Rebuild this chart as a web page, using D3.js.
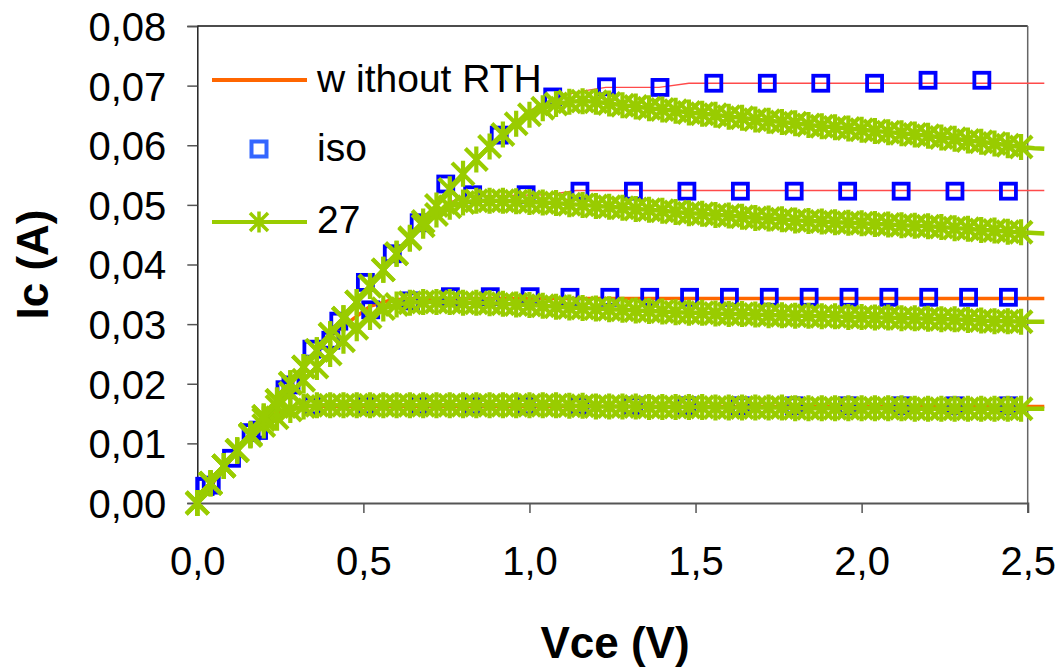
<!DOCTYPE html>
<html>
<head>
<meta charset="utf-8">
<script src="https://cdn.jsdelivr.net/npm/d3@7"></script>
<style>
  html, body { margin: 0; padding: 0; background: #fff; }
  svg { display: block; font-family: "Liberation Sans", Arial, sans-serif; }
</style>
</head>
<body>
<svg id="chart" width="1062" height="669"></svg>
<script>
// ---- axis ticks ----
const xTicks = [0, 0.5, 1.0, 1.5, 2.0, 2.5];
const yTicks = [0, 0.01, 0.02, 0.03, 0.04, 0.05, 0.06, 0.07, 0.08];

// ---- legend labels ----
const seriesNames = ["w ithout RTH", "iso", "27"];

// ---- "without RTH": one polyline per base current (Vce in V, Ic in A) ----
const noRthV1 = [0, 0.16, 0.24, 0.30, 0.34, 2.55];
const noRthI1 = [0, 0.0115, 0.0152, 0.0160, 0.0162, 0.0162];
const noRthV2 = [0, 0.20, 0.40, 0.52, 0.58, 0.64, 2.55];
const noRthI2 = [0, 0.0145, 0.0280, 0.0330, 0.0340, 0.0343, 0.0343];
const noRthV3 = [0, 0.28, 0.52, 0.68, 0.76, 0.82, 1.06, 1.14, 2.55];
const noRthI3 = [0, 0.0201, 0.0364, 0.0470, 0.0505, 0.0515, 0.0517, 0.0524, 0.0524];
const noRthV4 = [0, 0.28, 0.52, 0.76, 0.92, 1.00, 1.08, 1.15, 1.23, 1.39, 1.48, 2.55];
const noRthI4 = [0, 0.0201, 0.0364, 0.0528, 0.0622, 0.0658, 0.0680, 0.0690, 0.0697, 0.0697, 0.0704, 0.0704];

// ---- "iso": square markers ----
const isoVa = [0.023, 0.184, 0.345, 0.506, 0.668, 0.829, 0.990, 1.152, 1.313, 1.474, 1.635, 1.797, 1.958, 2.119, 2.281, 2.442];
const isoI1 = [0.0028, 0.0122, 0.0163, 0.0163, 0.0163, 0.0163, 0.0163, 0.0163, 0.0163, 0.0163, 0.0163, 0.0163, 0.0163, 0.0163, 0.0163, 0.0163];
const isoVb = [0.042, 0.162, 0.282, 0.402, 0.522, 0.642, 0.762, 0.882, 1.002, 1.122, 1.242, 1.362, 1.482, 1.602, 1.722, 1.842, 1.962, 2.082, 2.202, 2.322, 2.442];
const isoI2 = [0.0030, 0.0118, 0.0198, 0.0273, 0.0324, 0.0339, 0.0346, 0.0346, 0.0346, 0.0345, 0.0345, 0.0345, 0.0345, 0.0345, 0.0345, 0.0345, 0.0345, 0.0345, 0.0345, 0.0345, 0.0345];
const isoI3 = [0.0028, 0.0122, 0.0258, 0.0370, 0.0470, 0.0517, 0.0517, 0.0523, 0.0523, 0.0523, 0.0523, 0.0523, 0.0523, 0.0523, 0.0523, 0.0523];
const isoVc = [0.103, 0.264, 0.426, 0.587, 0.748, 0.909, 1.070, 1.232, 1.393, 1.555, 1.716, 1.877, 2.039, 2.200, 2.362];
const isoI4 = [0.0075, 0.0190, 0.0305, 0.0418, 0.0535, 0.0617, 0.0681, 0.0698, 0.0697, 0.0704, 0.0704, 0.0704, 0.0704, 0.0709, 0.0709];

// ---- "27": sampled Vce grid and Ic per base current ----
const vce27 = [
  0, 0.04, 0.08, 0.12, 0.16, 0.20, 0.24, 0.28, 0.32, 0.36,
  0.40, 0.44, 0.48, 0.52, 0.56, 0.60, 0.64, 0.68, 0.72, 0.76,
  0.80, 0.84, 0.88, 0.92, 0.96, 1.00, 1.04, 1.08, 1.12, 1.16,
  1.20, 1.24, 1.28, 1.32, 1.36, 1.40, 1.44, 1.48, 1.52, 1.56,
  1.60, 1.64, 1.68, 1.72, 1.76, 1.80, 1.84, 1.88, 1.92, 1.96,
  2.00, 2.04, 2.08, 2.12, 2.16, 2.20, 2.24, 2.28, 2.32, 2.36,
  2.40, 2.44, 2.48, 2.52,
  2.55
];
const ic27a = [
  0, 0.0033, 0.0062, 0.0088, 0.0113, 0.0130, 0.0143, 0.0156, 0.0162, 0.0164,
  0.0164, 0.0164, 0.0164, 0.0164, 0.0164, 0.0164, 0.0164, 0.0164, 0.0164, 0.0164,
  0.0164, 0.0164, 0.0164, 0.0164, 0.0164, 0.0164, 0.0164, 0.0164, 0.0163, 0.0163,
  0.0162, 0.0162, 0.0162, 0.0162, 0.0161, 0.0161, 0.0161, 0.0161, 0.0161, 0.0160,
  0.0160, 0.0160, 0.0160, 0.0160, 0.0160, 0.0159, 0.0159, 0.0159, 0.0159, 0.0159,
  0.0159, 0.0159, 0.0159, 0.0159, 0.0158, 0.0158, 0.0158, 0.0158, 0.0158, 0.0158,
  0.0158, 0.0158, 0.0158, 0.0158,
  0.0158
];
const ic27b = [
  0, 0.0033, 0.0062, 0.0088, 0.0115, 0.0140, 0.0162, 0.0184, 0.0206, 0.0228,
  0.0250, 0.0272, 0.0293, 0.0312, 0.0326, 0.0333, 0.0336, 0.0337, 0.0337, 0.0337,
  0.0336, 0.0336, 0.0335, 0.0334, 0.0333, 0.0332, 0.0331, 0.0329, 0.0328, 0.0327,
  0.0326, 0.0325, 0.0324, 0.0323, 0.0322, 0.0321, 0.0320, 0.0319, 0.0319, 0.0318,
  0.0317, 0.0317, 0.0316, 0.0315, 0.0315, 0.0314, 0.0314, 0.0313, 0.0313, 0.0312,
  0.0312, 0.0311, 0.0311, 0.0310, 0.0310, 0.0309, 0.0308, 0.0308, 0.0307, 0.0306,
  0.0305, 0.0305, 0.0304, 0.0304,
  0.0304
];
const ic27c = [
  0, 0.0033, 0.0062, 0.0088, 0.0115, 0.0145, 0.0172, 0.0201, 0.0228, 0.0256,
  0.0283, 0.0310, 0.0337, 0.0364, 0.0391, 0.0418, 0.0443, 0.0465, 0.0484, 0.0497,
  0.0504, 0.0507, 0.0507, 0.0507, 0.0506, 0.0505, 0.0504, 0.0503, 0.0501, 0.0500,
  0.0498, 0.0497, 0.0495, 0.0493, 0.0492, 0.0490, 0.0488, 0.0486, 0.0485, 0.0483,
  0.0482, 0.0480, 0.0478, 0.0477, 0.0476, 0.0474, 0.0473, 0.0472, 0.0471, 0.0470,
  0.0469, 0.0468, 0.0467, 0.0466, 0.0465, 0.0464, 0.0463, 0.0461, 0.0460, 0.0458,
  0.0457, 0.0455, 0.0454, 0.0453,
  0.0452
];
const ic27d = [
  0, 0.0033, 0.0062, 0.0088, 0.0115, 0.0145, 0.0172, 0.0201, 0.0228, 0.0256,
  0.0283, 0.0310, 0.0337, 0.0364, 0.0391, 0.0418, 0.0445, 0.0472, 0.0499, 0.0526,
  0.0552, 0.0576, 0.0598, 0.0618, 0.0636, 0.0651, 0.0662, 0.0669, 0.0673, 0.0674,
  0.0673, 0.0670, 0.0667, 0.0665, 0.0662, 0.0660, 0.0658, 0.0655, 0.0653, 0.0651,
  0.0648, 0.0646, 0.0643, 0.0641, 0.0639, 0.0637, 0.0634, 0.0632, 0.0630, 0.0628,
  0.0626, 0.0624, 0.0622, 0.0620, 0.0618, 0.0616, 0.0613, 0.0611, 0.0608, 0.0606,
  0.0603, 0.0600, 0.0597, 0.0595,
  0.0594
];

// ---- colours ----
const cOrange = "#ff6600";
const cRed = "#ff4a4a";
const cBlue = "#0000ff";
const cBlueLegend = "#3366ff";
const cGreen = "#99cc00";

const zip = (vs, is) => vs.map((v, k) => [v, is[k]]);

const svg = d3.select("#chart");
svg.append("rect").attr("width", 1062).attr("height", 669).attr("fill", "#fff");

const x = d3.scaleLinear().domain([0, 2.5]).range([197.3, 1027.7]);
const y = d3.scaleLinear().domain([0, 0.08]).range([503, 26]);
const line = d3.line().x(d => x(d[0])).y(d => y(d[1]));
const comma = f => d => d3.format(f)(d).replace(".", ",");

// plot frame (top and right)
svg.append("line").attr("x1", x(0)).attr("x2", x(2.5)).attr("y1", y(0.08)).attr("y2", y(0.08))
  .attr("stroke", "#111").attr("stroke-width", 1.5);
svg.append("line").attr("x1", x(2.5)).attr("x2", x(2.5)).attr("y1", y(0.08)).attr("y2", y(0))
  .attr("stroke", "#666").attr("stroke-width", 1.5);

// y axis
const gy = svg.append("g").attr("transform", `translate(${x(0)},0)`)
  .call(d3.axisLeft(y).tickValues(yTicks).tickSize(10).tickPadding(21).tickFormat(comma(".2f")));
gy.select(".domain").attr("stroke", "#222").attr("stroke-width", 1.5);
gy.selectAll(".tick line").attr("stroke", "#555").attr("stroke-width", 1.5);
gy.selectAll(".tick text").attr("font-size", 40).attr("fill", "#000")
  .attr("font-family", "'Liberation Sans', Arial, sans-serif").attr("dy", "0.36em");

// x axis
const gx = svg.append("g").attr("transform", `translate(0,${y(0)})`)
  .call(d3.axisBottom(x).tickValues(xTicks).tickSize(10).tickPadding(34).tickFormat(comma(".1f")));
gx.select(".domain").attr("stroke", "#555").attr("stroke-width", 2.2);
gx.selectAll(".tick line").attr("stroke", "#555").attr("stroke-width", 1.5);
gx.selectAll(".tick text").attr("font-size", 40).attr("fill", "#000")
  .attr("font-family", "'Liberation Sans', Arial, sans-serif");

// axis titles
svg.append("text").attr("x", 615).attr("y", 658).attr("text-anchor", "middle")
  .attr("font-size", 44).attr("font-weight", "bold").text("Vce (V)");
svg.append("text").attr("transform", "translate(48,264.5) rotate(-90)").attr("text-anchor", "middle")
  .attr("font-size", 44).attr("font-weight", "bold").text("Ic (A)");

// series 1: without RTH
const noRth = [
  { pts: zip(noRthV1, noRthI1), color: cOrange, w: 3.5 },
  { pts: zip(noRthV2, noRthI2), color: cOrange, w: 3.5 },
  { pts: zip(noRthV3, noRthI3), color: cRed, w: 1.4 },
  { pts: zip(noRthV4, noRthI4), color: cRed, w: 1.4 }
];
svg.append("g").selectAll("path").data(noRth).join("path")
  .attr("d", d => line(d.pts)).attr("fill", "none")
  .attr("stroke", d => d.color).attr("stroke-width", d => d.w);

// series 2: iso
const isoPts = [
  ...zip(isoVa, isoI1), ...zip(isoVb, isoI2), ...zip(isoVa, isoI3), ...zip(isoVc, isoI4)
];
const sq = 15;
svg.append("g").selectAll("rect").data(isoPts).join("rect")
  .attr("x", d => x(d[0]) - sq / 2).attr("y", d => y(d[1]) - sq / 2)
  .attr("width", sq).attr("height", sq)
  .attr("fill", "none").attr("stroke", cBlue).attr("stroke-width", 3.8);

// series 3: 27 (line + asterisk markers)
const curves27 = [ic27a, ic27b, ic27c, ic27d].map(ic => zip(vce27, ic));
const asteriskBig = "M-11,-11L11,11M-11,11L11,-11M0,-13L0,13";
const asteriskSmall = "M-9,-9L9,9M-9,9L9,-9M0,-10.5L0,10.5";
const g27 = svg.append("g");
curves27.forEach(pts => {
  g27.append("path").attr("d", line(pts)).attr("fill", "none")
    .attr("stroke", cGreen).attr("stroke-width", 4.5);
  g27.append("g").selectAll("path").data(pts.filter(d => d[0] <= 2.5)).join("path")
    .attr("transform", d => `translate(${x(d[0])},${y(d[1])})`)
    .attr("d", asteriskBig).attr("fill", "none")
    .attr("stroke", cGreen).attr("stroke-width", 4.2);
});

// legend
const lg = svg.append("g");
const lx0 = 212, lx1 = 307, lmid = 259, ltx = 317;
lg.append("line").attr("x1", lx0).attr("x2", lx1).attr("y1", 80).attr("y2", 80)
  .attr("stroke", cOrange).attr("stroke-width", 4);
lg.append("rect").attr("x", lmid - 7.5).attr("y", 149 - 7.5).attr("width", 15).attr("height", 15)
  .attr("fill", "#fff").attr("stroke", cBlueLegend).attr("stroke-width", 4);
lg.append("line").attr("x1", lx0).attr("x2", lx1).attr("y1", 222).attr("y2", 222)
  .attr("stroke", cGreen).attr("stroke-width", 4);
lg.append("path").attr("transform", `translate(${lmid},222)`).attr("d", asteriskSmall)
  .attr("fill", "none").attr("stroke", cGreen).attr("stroke-width", 3.5);
lg.selectAll("text").data(seriesNames).join("text")
  .attr("x", ltx).attr("y", (d, k) => [92, 161, 233][k])
  .attr("font-size", 39).attr("fill", "#000").text(d => d);
</script>
</body>
</html>
